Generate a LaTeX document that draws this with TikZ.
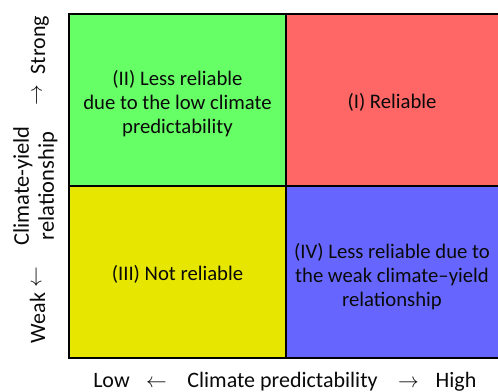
\documentclass[tikz,border=0pt]{standalone}
\usepackage{fontspec}
\setmainfont{Carlito}
\definecolor{qgreen}{RGB}{102,255,102}
\definecolor{qred}{RGB}{255,102,102}
\definecolor{qyellow}{RGB}{230,230,0}
\definecolor{qblue}{RGB}{102,102,255}
\definecolor{ink}{RGB}{10,10,10}
\begin{document}
\begin{tikzpicture}[x=1pt,y=-1pt,
  quad/.style={draw=black, line width=2pt, inner sep=0pt},
  boxtext/.style={font=\fontsize{20.7}{24}\selectfont, align=center, text=ink, inner sep=0pt},
  axistext/.style={font=\fontsize{22}{26}\selectfont, text=ink, inner sep=0pt},
  midtext/.style={font=\fontsize{22.5}{25}\selectfont, align=center, text=ink, inner sep=0pt},
  arrowtext/.style={font=\fontsize{21}{24}\selectfont, text=ink, inner sep=0pt},
]
\useasboundingbox (0,0) rectangle (498,391);
\clip (0,0) rectangle (498,391);

% the four quadrants
\node[quad, fill=qgreen,  minimum width=217, minimum height=172] (q2) at (177.5,100) {};
\node[quad, fill=qred,    minimum width=216, minimum height=172] (q1) at (394,100) {};
\node[quad, fill=qyellow, minimum width=217, minimum height=172] (q3) at (177.5,272) {};
\node[quad, fill=qblue,   minimum width=216, minimum height=172] (q4) at (394,272) {};

% quadrant labels
\node[boxtext] (t2) at (177.5,103.5) {(II) Less reliable\\due to the low climate\\predictability};
\node[boxtext, anchor=base] (t1) at (392,108) {(I) Reliable};
\node[boxtext, anchor=base] (t3) at (177.5,280) {(III) Not reliable};
\node[boxtext] (t4) at (392,276.5) {(IV) Less reliable due to\\the weak climate--yield\\relationship};

% horizontal axis
\node[axistext, anchor=base] (low) at (111.5,387) {Low};
\node[arrowtext, anchor=base] (xarrl) at (156.5,387) {$\leftarrow$};
\node[axistext, anchor=base] (xlab) at (282.5,387) {Climate predictability};
\node[arrowtext, anchor=base] (xarrr) at (408.5,387) {$\rightarrow$};
\node[axistext, anchor=base] (high) at (456,387) {High};

% vertical axis
\node[axistext, anchor=base, rotate=90] (strong) at (45,45) {Strong};
\node[arrowtext, rotate=90] (yarru) at (38,95) {$\rightarrow$};
\node[midtext, rotate=90] (ylab) at (35.5,186) {Climate-yield\\relationship};
\node[arrowtext, rotate=90] (yarrd) at (37.5,277) {$\leftarrow$};
\node[axistext, anchor=base, rotate=90] (weak) at (45,318) {Weak};
\end{tikzpicture}
\end{document}
